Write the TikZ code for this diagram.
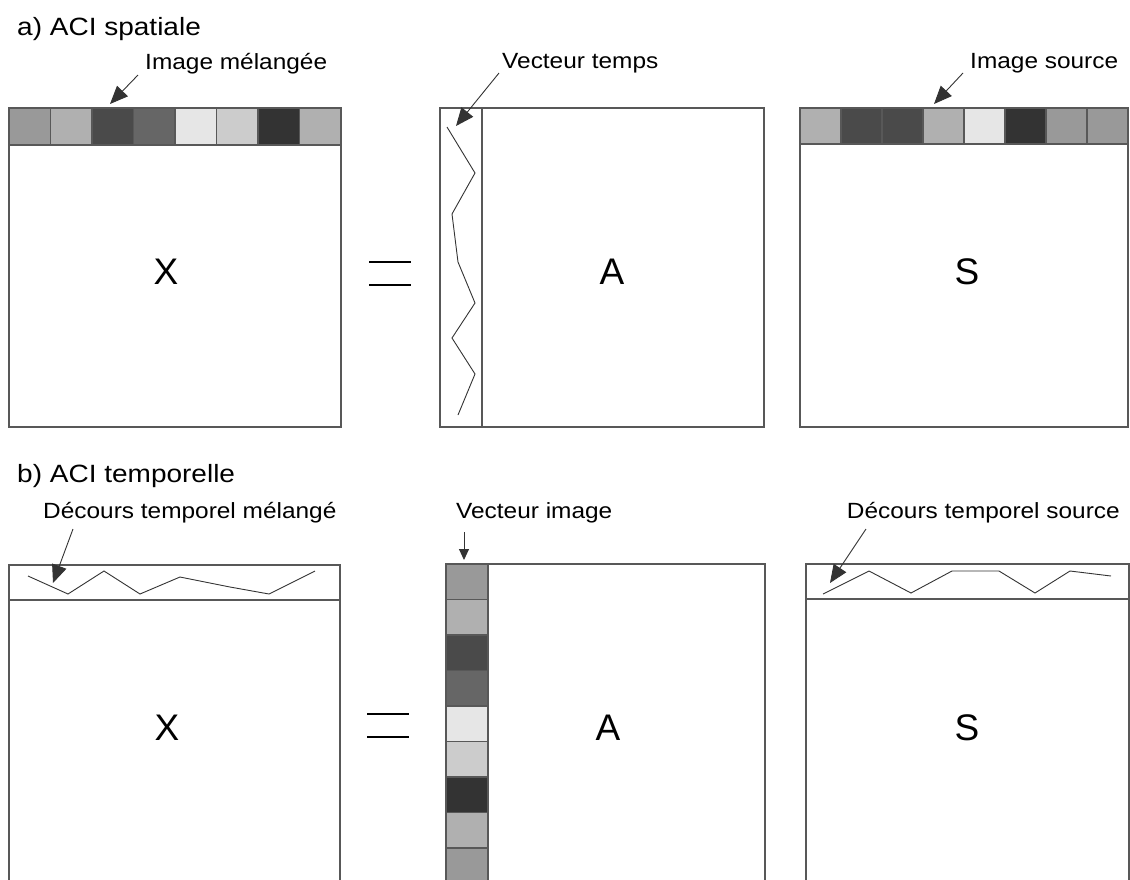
\documentclass[tikz,border=0pt]{standalone}
\usepackage{fontspec}
\setmainfont{Liberation Sans}
\usetikzlibrary{arrows.meta}
\definecolor{boxc}{HTML}{585858}
\definecolor{zigc}{HTML}{333333}
\definecolor{gA}{HTML}{999999}
\definecolor{gB}{HTML}{B0B0B0}
\definecolor{gC}{HTML}{4A4A4A}
\definecolor{gD}{HTML}{666666}
\definecolor{gE}{HTML}{E6E6E6}
\definecolor{gF}{HTML}{CCCCCC}
\definecolor{gG}{HTML}{333333}
\tikzset{
  boxline/.style={draw=boxc, line width=1.3pt},
  cell/.style={draw=boxc, line width=1.1pt},
  zig/.style={draw=zigc, line width=0.9pt, line join=miter},
  pointer/.style={draw=zigc, line width=0.9pt, -{Triangle[length=18pt,width=15pt]}},
  title/.style={inner sep=0pt, anchor=base west, xscale=1.12, font=\fontsize{25}{30}\selectfont},
  lbl/.style={inner sep=0pt, xscale=1.11, font=\fontsize{22}{26}\selectfont},
  big/.style={inner sep=0pt, font=\fontsize{37}{44}\selectfont},
  eqline/.style={draw=black, line width=2.6pt},
}
\begin{document}
\begin{tikzpicture}[x=1pt,y=-1pt]
\useasboundingbox (0,0) rectangle (1130,879);
\clip (0,0) rectangle (1130,879);
\fill[white] (0,0) rectangle (1130,879);

% ---------- a) ----------
\node[title] (ta) at (17,35) {a) ACI spatiale};

% left box X
\foreach \c [count=\i from 0] in {gA,gB,gC,gD,gE,gF,gG,gB}
  \filldraw[cell, fill=\c] (9+41.5*\i,108) rectangle (9+41.5*\i+41.5,145);
\draw[boxline] (9,108) rectangle (341,427);
\draw[boxline] (9,145) -- (341,145);
\node[big] (xa) at (166,272) {X};
\node[lbl, anchor=base west] (lim) at (145,69) {Image mélangée};
\coordinate (lims) at (138,75);
\coordinate (limt) at (110,104);
\draw[pointer] (lims) -- (limt);

% equals
\draw[eqline] (369,262) -- (411,262);
\draw[eqline] (369,285) -- (411,285);

% middle box A
\draw[boxline] (440,108) rectangle (764,427);
\draw[boxline] (482,108) -- (482,427);
\draw[zig] (447,127) -- (475,173) -- (452,214) -- (458,262) -- (475,303) -- (452,338) -- (475,374) -- (458,415);
\node[big] (aa) at (612,272) {A};
\node[lbl, anchor=base west] (lvt) at (502,68) {Vecteur temps};
\coordinate (lvts) at (499,73);
\coordinate (lvtt) at (456,126);
\draw[pointer] (lvts) -- (lvtt);

% right box S
\foreach \c [count=\i from 0] in {gB,gC,gC,gB,gE,gG,gA,gA}
  \filldraw[cell, fill=\c] (800+41*\i,108) rectangle (800+41*\i+41,144);
\draw[boxline] (800,108) rectangle (1128,427);
\draw[boxline] (800,144) -- (1128,144);
\node[big] (sa) at (967,272) {S};
\node[lbl, anchor=base west] (lis) at (970,68) {Image source};
\coordinate (liss) at (963,73);
\coordinate (list) at (934,104);
\draw[pointer] (liss) -- (list);

% ---------- b) ----------
\node[title] (tb) at (17,482) {b) ACI temporelle};

% left box X
\draw[boxline] (9,885) -- (9,565) -- (340,565) -- (340,885);
\draw[boxline] (9,600) -- (340,600);
\draw[zig] (28,576) -- (68,594) -- (104,571) -- (140,594) -- (180,577) -- (230,587) -- (269,594) -- (315,571);
\node[big] (xb) at (167,728) {X};
\node[lbl, anchor=base west] (ldm) at (43,518) {Décours temporel mélangé};
\coordinate (ldms) at (73,529);
\coordinate (ldmt) at (53,583);
\draw[pointer] (ldms) -- (ldmt);

% equals
\draw[eqline] (367,714) -- (409,714);
\draw[eqline] (367,737) -- (409,737);

% middle box A
\draw[boxline] (488,564) -- (765,564) -- (765,885);
\foreach \c [count=\i from 0] in {gA,gB,gC,gD,gE,gF,gG,gB,gA}
  \filldraw[cell, fill=\c] (446,564+35.5*\i) rectangle (488,564+35.5*\i+35.5);
\node[big] (ab) at (608,728) {A};
\node[lbl, anchor=base west] (lvi) at (456,518) {Vecteur image};
\coordinate (lvis) at (464,532);
\coordinate (lvit) at (464,560);
\draw[draw=zigc, line width=0.9pt, -{Triangle[length=11pt,width=10pt]}] (lvis) -- (lvit);

% right box S
\draw[boxline] (806,885) -- (806,564) -- (1129,564) -- (1129,885);
\draw[boxline] (806,599) -- (1129,599);
\draw[zig] (823,594) -- (869,571) -- (911,593) -- (952,571) -- (999,571) -- (1035,593) -- (1070,571) -- (1111,576);
\node[big] (sb) at (967,728) {S};
\node[lbl, anchor=base east] (lds) at (1120,518) {Décours temporel source};
\coordinate (ldss) at (866,529);
\coordinate (ldst) at (830,583);
\draw[pointer] (ldss) -- (ldst);
\end{tikzpicture}
\end{document}
